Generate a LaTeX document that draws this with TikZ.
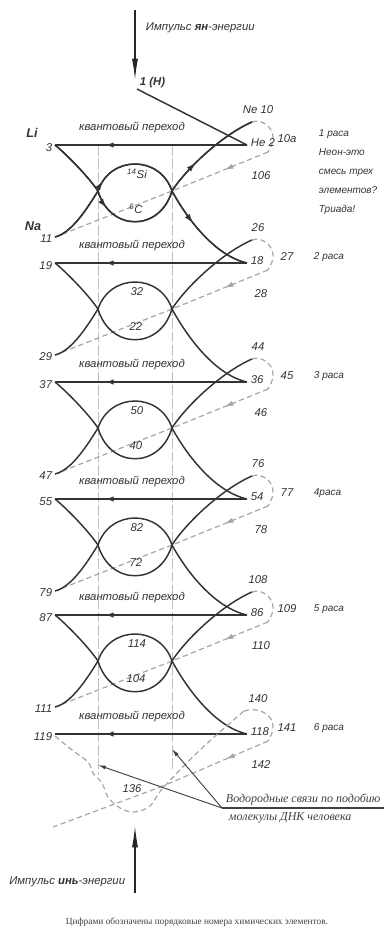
\documentclass[tikz,border=0pt]{standalone}
\usepackage{fontspec}
\setmainfont{Liberation Sans}
\newfontfamily\notefont{Liberation Serif}
\usetikzlibrary{arrows.meta,decorations.markings}

\tikzset{
  strand/.style={line width=1.1pt, draw=black!80},
  hline/.style={line width=1.2pt, draw=black!80},
  bond/.style={line width=0.9pt, draw=black!35, dash pattern=on 4pt off 2.5pt},
  guide/.style={line width=0.4pt, draw=black!25, dash pattern=on 8pt off 2pt},
  lbl/.style={font=\itshape\fontsize{8.5}{9}\selectfont, inner sep=0.5pt, text=black!80},
  num/.style={font=\itshape\fontsize{8.5}{9}\selectfont, inner sep=0.5pt, text=black!80},
  note/.style={font=\notefont\itshape\fontsize{9}{10}\selectfont, inner sep=0.5pt, text=black!75},
  impulse/.style={line width=0.9pt, draw=black!85, -{Latex[length=16pt,width=4.5pt]}},
  pointer/.style={line width=0.7pt, draw=black!75, -{Latex[length=6pt,width=3pt]}},
  midarr/.style={postaction={decorate}, decoration={markings,
      mark=at position #1 with {\arrow{Latex[length=6.5pt,width=4pt]}}}},
  flow/.style 2 args={postaction={decorate}, decoration={markings,
      mark=at position #1 with {\arrow{Latex[length=7pt,width=4.5pt]}},
      mark=at position #2 with {\arrow{Latex[length=7pt,width=4.5pt]}}}},
}

\begin{document}
\begin{tikzpicture}[x=0.75pt, y=-0.75pt]
\useasboundingbox (0,0) rectangle (384,933);

% yang impulse from above
\coordinate (yangtop) at (135,10);
\coordinate (H) at (135,80);
\draw[impulse] (yangtop) -- (H);
\node[lbl, anchor=west] (yang) at (145,28) {Импульс \textbf{ян}-энергии};
\node[lbl, anchor=west, font=\bfseries\itshape\fontsize{8.5}{9}\selectfont] (hlab) at (139,83) {1 (H)};

% vertical guides
\coordinate (gl1) at (98,145); \coordinate (gl2) at (98,775);
\coordinate (gr1) at (172,145); \coordinate (gr2) at (172,770);
\draw[guide] (gl1) -- (gl2);
\draw[guide] (gr1) -- (gr2);

% quantum transitions
\foreach \i/\y/\nlab in {1/145/3, 2/263/19, 3/382/37, 4/499/55, 5/615/87, 6/734/119} {
  \coordinate (L\i) at (55,\y);
  \coordinate (R\i) at (247,\y);
  \draw[hline, midarr=0.74] (R\i) -- (L\i);
  \node[num, anchor=east] (n\i) at (53,\y+3) {\nlab};
  \node[lbl] (q\i) at (132,\y-18) {квантовый переход};
}
\coordinate (H1) at (137,89);
\draw[strand] (H1) -- (R1);

% loops
\foreach \i/\j/\y/\ny/\nbot/\ntop/\nleft in {1/2/145/263/{\textsuperscript{6}C}/{\textsuperscript{14}Si}/11,
    2/3/263/382/22/32/29, 3/4/382/499/40/50/47, 4/5/499/615/72/82/79, 5/6/615/734/104/114/111} {
  \coordinate (LL\i) at (55,\y+92);
  \coordinate (XL\i) at (98,\y+46);
  \coordinate (XR\i) at (172,\y+46);
  \coordinate (TR\i) at (252,\y-23);
  \coordinate (B\i) at (268,\y+7);
  \draw[bond] (TR\i) to[out=20,in=90] (273,\y-8) to[out=-90,in=60] (B\i);
  \draw[bond, midarr=0.45] (B\i) -- (XR\i);
  \draw[bond] (XR\i) -- (LL\i);
  \draw[strand] (L\i) .. controls (65,\y+8) and (87,\y+30) .. (XL\i)
    .. controls (110,\y+87) and (160,\y+87) .. (XR\i)
    .. controls (184,\y+68) and (212,\ny-8) .. (R\j);
  \draw[strand] (LL\i) .. controls (72,\y+88) and (88,\y+62) .. (XL\i)
    .. controls (110,\y+10) and (160,\y+10) .. (XR\i)
    .. controls (186,\y+24) and (222,\y-10) .. (TR\i);
  \node[num] (top\i) at (137,\y+29) {\ntop};
  \node[num] (bot\i) at (136,\y+64) {\nbot};
  \node[num, anchor=east] (m\i) at (53,\y+94) {\nleft};
}
% direction of the first pair
\draw[strand, flow={0.3}{0.75}] (L1) .. controls (65,153) and (87,175) .. (XL1)
  .. controls (110,232) and (160,232) .. (XR1) .. controls (184,213) and (212,255) .. (R2);
\draw[strand, flow={0.28}{0.74}] (LL1) .. controls (72,233) and (88,207) .. (XL1)
  .. controls (110,155) and (160,155) .. (XR1) .. controls (186,169) and (222,135) .. (TR1);

\node[lbl, font=\bfseries\itshape\fontsize{9.5}{10}\selectfont] (li) at (32,133) {Li};
\node[lbl, font=\bfseries\itshape\fontsize{9.5}{10}\selectfont] (na) at (33,226) {Na};

% right column
\foreach \y/\ntop/\nend/\nmid/\nbot in {145/Ne 10/He 2/10a/106, 263/26/18/27/28, 382/44/36/45/46,
    499/76/54/77/78, 615/108/86/109/110, 734/140/118/141/142} {
  \node[num] (t\y) at (258,\y-35) {\ntop};
  \node[num, anchor=west] (e\y) at (250,\y-2) {\nend};
  \node[num] (c\y) at (287,\y-6) {\nmid};
  \node[num] (b\y) at (261,\y+31) {\nbot};
}
\node[lbl, anchor=north west, align=left, font=\itshape\fontsize{7.5}{14.2}\selectfont] (race1) at (318,129)
  {1 раса\\Неон-это\\смесь трех\\элементов?\\Триада!};
\foreach \y/\race in {263/2 раса, 382/3 раса, 499/4раса, 615/5 раса, 734/6 раса} {
  \node[lbl, anchor=west, font=\itshape\fontsize{7.5}{9}\selectfont] (r\y) at (313,\y-6) {\race};
}

% last level: hydrogen bonds
\coordinate (TR6) at (244,711);
\coordinate (B6) at (268,741);
\coordinate (X6) at (163,786);
\coordinate (LL6) at (53,827);
\draw[bond] (TR6) to[out=20,in=90] (273,726) to[out=-90,in=60] (B6);
\draw[bond, midarr=0.4] (B6) -- (X6);
\draw[bond] (X6) -- (LL6);
\draw[bond] plot[smooth, tension=0.6] coordinates {(55,736) (72,750) (88,762) (93,773) (102,783)
  (108,797) (120,808) (134,812) (150,806) (163,788) (200,750) (244,711)};
\node[num] (n136) at (132,789) {136};

\coordinate (hb) at (222,808);
\coordinate (hbl) at (98,765);
\coordinate (hbr) at (172,749);
\coordinate (hbend) at (384,808);
\draw[pointer] (hb) -- (hbl);
\draw[pointer] (hb) -- (hbr);
\draw[line width=0.8pt, black!75] (hb) -- (hbend);
\node[note, anchor=south west] (hnote1) at (225,806) {Водородные связи по подобию};
\node[note, anchor=north west] (hnote2) at (228,812) {молекулы ДНК человека};

% yin impulse from below
\coordinate (yinbot) at (135,893);
\coordinate (yintip) at (135,826);
\draw[impulse] (yinbot) -- (yintip);
\node[lbl, anchor=east] (yin) at (126,882) {Импульс \textbf{инь}-энергии};
\node[font=\notefont\fontsize{7}{8}\selectfont, text=black!75] (caption) at (197,922)
  {Цифрами обозначены порядковые номера химических элементов.};
\end{tikzpicture}
\end{document}
